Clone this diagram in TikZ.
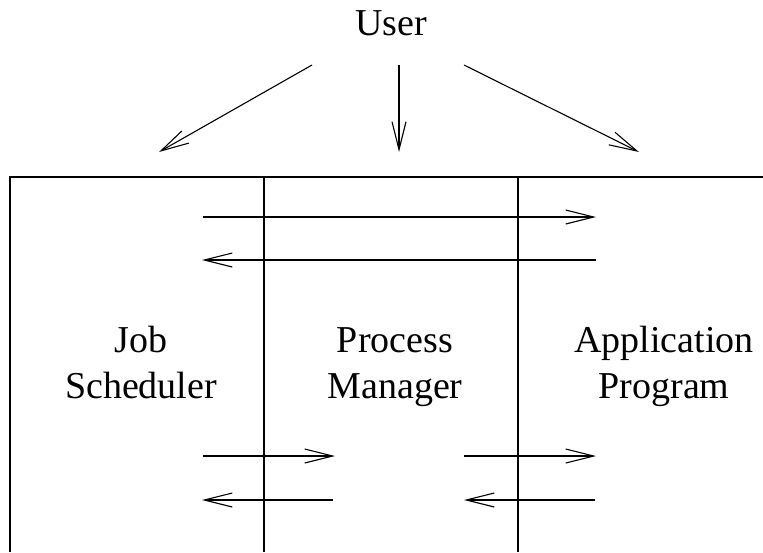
\documentclass[tikz,border=0pt]{standalone}
\usepackage{fontspec}
\setmainfont{Liberation Serif}
\usetikzlibrary{arrows.meta}
\tikzset{
  wire/.style={line width=1.1pt, line cap=butt},
  flow/.style={wire, -{Straight Barb[length=28pt, width=14pt, line width=1.1pt]}},
  lbl/.style={align=center, inner sep=0pt, font=\fontsize{38}{46}\selectfont},
}
\begin{document}
\begin{tikzpicture}[x=1pt, y=-1pt]
\useasboundingbox (0,0) rectangle (763,552);
% frame
\coordinate (bl) at (10,552);
\coordinate (tl) at (10,177);
\coordinate (tr) at (763,177);
\coordinate (d1t) at (264,177);
\coordinate (d1b) at (264,552);
\coordinate (d2t) at (518,177);
\coordinate (d2b) at (518,552);
\draw[wire] (bl) -- (tl) -- (tr);
\draw[wire, line width=1.4pt] (d1t) -- (d1b);
\draw[wire, line width=1.4pt] (d2t) -- (d2b);
% user
\node[lbl, anchor=base] (user) at (391,35) {User};
\coordinate (u1) at (312,65);
\coordinate (u2) at (399,65);
\coordinate (u3) at (464,65);
\coordinate (js) at (159,152);
\coordinate (pm) at (399,152);
\coordinate (ap) at (639,152);
\draw[flow] (u1) -- (js);
\draw[flow] (u2) -- (pm);
\draw[flow] (u3) -- (ap);
% labels
\node[lbl] (job) at (141,365.8) {\strut Job\\\strut Scheduler};
\node[lbl] (proc) at (395,365.8) {\strut Process\\\strut Manager};
\node[lbl] (app) at (664,365.8) {\strut Application\\\strut Program};
% long arrows
\coordinate (a1) at (203,217);
\coordinate (a2) at (596,217);
\coordinate (b1) at (596,260);
\coordinate (b2) at (202,260);
\draw[flow] (a1) -- (a2);
\draw[flow] (b1) -- (b2);
% lower left arrows
\coordinate (c1) at (203,456);
\coordinate (c2) at (335,456);
\coordinate (e1) at (333,500);
\coordinate (e2) at (202,500);
\draw[flow] (c1) -- (c2);
\draw[flow] (e1) -- (e2);
% lower right arrows
\coordinate (f1) at (464,456);
\coordinate (f2) at (596,456);
\coordinate (g1) at (595,500);
\coordinate (g2) at (464,500);
\draw[flow] (f1) -- (f2);
\draw[flow] (g1) -- (g2);
\end{tikzpicture}
\end{document}
